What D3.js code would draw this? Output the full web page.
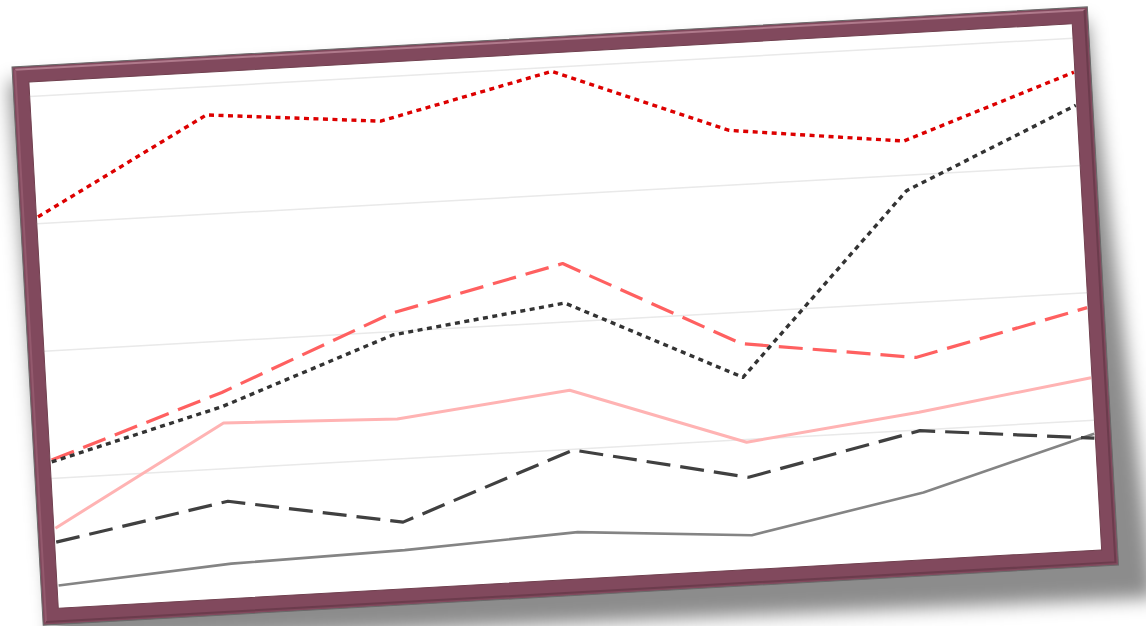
<!DOCTYPE html>
<html>
<head>
<meta charset="utf-8">
<script src="https://cdn.jsdelivr.net/npm/d3@7"></script>
<style>
  html, body { margin: 0; padding: 0; background: #ffffff; }
  svg { display: block; }
</style>
</head>
<body>
<svg id="chart" width="1146" height="626"></svg>
<script>
// ---- data ----
const categories = ["1", "2", "3", "4", "5", "6", "7"];
const gridTicks = [20, 40, 60, 80];
const redDotted   = [61.0, 75.5, 73.0, 79.3, 68.5, 65.3, 74.6];
const blackDotted = [22.5, 29.7, 39.4, 42.9, 29.7, 57.5, 69.4];
const redDashed   = [22.8, 31.9, 42.8, 49.1, 35.0, 31.3, 37.6];
const pinkSolid   = [12.1, 27.1, 26.2, 29.2, 19.5, 22.7, 26.6];
const darkDashed  = [9.9, 14.8, 10.0, 19.8, 14.0, 19.8, 17.1];
const greySolid   = [3.1, 5.0, 5.6, 6.9, 4.9, 10.1, 17.8];

const series = [
  { values: greySolid,   color: "#848484", width: 2.6, dash: null },
  { values: darkDashed,  color: "#404040", width: 3.2, dash: "24,10" },
  { values: pinkSolid,   color: "#ffb3b3", width: 3,   dash: null },
  { values: redDashed,   color: "#ff6060", width: 3.2, dash: "24,10" },
  { values: blackDotted, color: "#333333", width: 3.4, dash: "5,4.5" },
  { values: redDotted,   color: "#dd0000", width: 3.4, dash: "5,4.5" }
];

// ---- layout (local, unrotated frame) ----
const W = 1077, H = 559, B = 16;
const svg = d3.select("#chart");
const defs = svg.append("defs");
defs.append("filter").attr("id", "blur")
  .attr("x", "-10%").attr("y", "-10%").attr("width", "120%").attr("height", "130%")
  .append("feGaussianBlur").attr("stdDeviation", 9);

const g = svg.append("g").attr("transform", "translate(12,67) rotate(-3.2)");

// shadow
g.append("path")
  .attr("d", d3.line()([[-4, 14], [1076, 14], [1112, 594], [10, 580]]) + "Z")
  .attr("fill", "rgba(0,0,0,0.45)")
  .attr("filter", "url(#blur)");

// frame outer
g.append("rect").attr("x", 0).attr("y", 0).attr("width", W).attr("height", H)
  .attr("fill", "#81495d").attr("stroke", "#6a6a6a").attr("stroke-width", 1);
// bevel highlight
g.append("path").attr("d", d3.line()([[3, 3], [W - 3, 3]]))
  .attr("stroke", "#b07a8c").attr("stroke-width", 2).attr("fill", "none");
g.append("path").attr("d", d3.line()([[3, 3], [3, H - 3]]))
  .attr("stroke", "#93596d").attr("stroke-width", 2).attr("fill", "none");
g.append("path").attr("d", d3.line()([[W - 3, 3], [W - 3, H - 3], [3, H - 3]]))
  .attr("stroke", "#6c3c4d").attr("stroke-width", 2).attr("fill", "none");

// inner plot area
g.append("rect").attr("x", B).attr("y", B).attr("width", W - 2 * B).attr("height", H - 2 * B)
  .attr("fill", "#ffffff");

const x = d3.scalePoint().domain(categories).range([17.6, 1060]);
const y = d3.scaleLinear().domain([0, 80]).range([540, 30]);

// gridlines via axis
const grid = g.append("g").attr("transform", `translate(${B},0)`)
  .call(d3.axisLeft(y).tickValues(gridTicks).tickSize(-(W - 2 * B)).tickFormat(""));
grid.select(".domain").remove();
grid.selectAll(".tick line").attr("stroke", "#e9e9e9").attr("stroke-width", 1.5);

const line = d3.line().x((d, i) => x(categories[i])).y(d => y(d));

g.append("g").selectAll("path").data(series).join("path")
  .attr("d", d => line(d.values))
  .attr("fill", "none")
  .attr("stroke", d => d.color)
  .attr("stroke-width", d => d.width)
  .attr("stroke-dasharray", d => d.dash)
  .attr("stroke-linejoin", "round");

// inner edge shade
g.append("rect").attr("x", B).attr("y", B).attr("width", W - 2 * B).attr("height", H - 2 * B)
  .attr("fill", "none").attr("stroke", "#70404f").attr("stroke-width", 1);
</script>
</body>
</html>
